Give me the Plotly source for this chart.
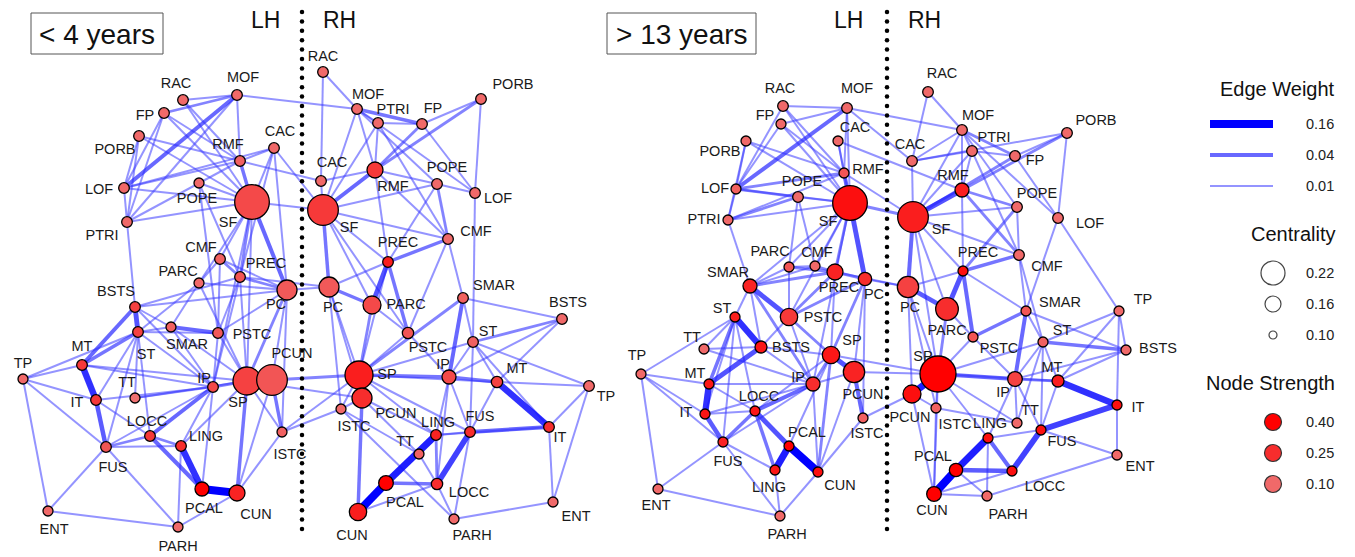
import numpy as np
import plotly.graph_objects as go

# Cortical regions (Desikan atlas abbreviations), same order in every array below
REGIONS = ["RAC", "MOF", "FP", "PORB", "CAC", "RMF", "LOF", "POPE", "SF", "PTRI",
           "CMF", "PREC", "PARC", "PC", "BSTS", "ST", "SMAR", "PSTC", "MT", "TP",
           "SP", "PCUN", "IP", "TT", "IT", "LOCC", "LING", "ISTC", "FUS", "PCAL",
           "CUN", "ENT", "PARH"]

# ---------------- "< 4 years" : left hemisphere ----------------
L1_X = [183, 237, 164, 139, 274, 240, 124, 199, 252, 127, 220, 240, 199, 287, 135, 138, 171,
        218, 82, 23, 247, 272, 213, 135, 96, 150, 181, 282, 106, 202, 237, 48, 178]
L1_Y = [100, 95, 113, 136, 148, 161, 188, 183, 202, 222, 259, 277, 283, 290, 307, 332, 327,
        333, 365, 379, 381, 380, 387, 398, 400, 436, 446, 432, 447, 489, 493, 511, 527]
L1_CENT = [.12, .12, .12, .12, .12, .12, .12, .115, .30, .12, .12, .12, .115, .19, .12, .12, .115,
           .12, .12, .115, .25, .27, .12, .115, .12, .12, .12, .115, .12, .145, .16, .115, .115]
L1_STR = [.10, .10, .10, .10, .10, .12, .10, .10, .18, .10, .12, .15, .10, .14, .20, .20, .12,
          .14, .22, .10, .20, .15, .18, .08, .22, .22, .25, .12, .15, .40, .28, .10, .10]
L1_EDGES = [
    ("RAC", "MOF", .01), ("FP", "MOF", .02), ("FP", "LOF", .01), ("FP", "PTRI", .01), ("FP", "RMF", .01),
    ("FP", "SF", .01), ("RAC", "RMF", .01), ("RAC", "SF", .01), ("MOF", "LOF", .04), ("MOF", "PTRI", .01),
    ("MOF", "RMF", .01), ("PORB", "LOF", .01), ("PORB", "PTRI", .01), ("PORB", "RMF", .01), ("PORB", "SF", .01),
    ("LOF", "PTRI", .01), ("LOF", "RMF", .01), ("LOF", "CAC", .01), ("LOF", "SF", .01), ("PTRI", "SF", .01),
    ("PTRI", "RMF", .01), ("PTRI", "BSTS", .01), ("POPE", "SF", .01), ("POPE", "PREC", .01), ("POPE", "PSTC", .01),
    ("RMF", "SF", .03), ("RMF", "CAC", .01), ("CAC", "SF", .01), ("CAC", "PC", .01), ("CAC", "PREC", .01),
    ("SF", "PC", .04), ("SF", "CMF", .01), ("SF", "PREC", .02), ("SF", "PARC", .01), ("SF", "SP", .01),
    ("SF", "IP", .01), ("CMF", "PREC", .02), ("CMF", "PARC", .01), ("CMF", "PC", .01), ("CMF", "PSTC", .01),
    ("PREC", "PC", .02), ("PREC", "PSTC", .01), ("PREC", "SP", .01), ("PREC", "BSTS", .01), ("PREC", "IP", .01),
    ("PARC", "PC", .01), ("PARC", "SP", .01), ("PARC", "SMAR", .01), ("PARC", "ST", .01), ("PC", "SP", .02),
    ("PC", "PCUN", .01), ("PC", "ISTC", .01), ("BSTS", "ST", .06), ("BSTS", "MT", .04), ("BSTS", "SMAR", .01),
    ("BSTS", "PC", .01), ("BSTS", "IP", .01), ("ST", "MT", .03), ("ST", "SMAR", .01), ("ST", "PSTC", .01),
    ("ST", "TT", .01), ("ST", "FUS", .01), ("ST", "IT", .01), ("ST", "IP", .01), ("ST", "LOCC", .01),
    ("ST", "TP", .01), ("SMAR", "PSTC", .04), ("SMAR", "IP", .01), ("SMAR", "SP", .01), ("PSTC", "SP", .01),
    ("PSTC", "IP", .01), ("PSTC", "PC", .01), ("MT", "IT", .10), ("MT", "IP", .01), ("MT", "TP", .01),
    ("MT", "SP", .01), ("TP", "IT", .01), ("TP", "FUS", .01), ("TP", "ENT", .01), ("IT", "FUS", .05),
    ("IT", "IP", .01), ("IT", "LOCC", .01), ("TT", "IP", .01), ("TT", "SP", .01), ("IP", "SP", .02),
    ("IP", "LOCC", .04), ("IP", "FUS", .01), ("IP", "PCAL", .01), ("IP", "LING", .01), ("SP", "PCUN", .02),
    ("SP", "CUN", .03), ("SP", "ISTC", .01), ("SP", "LING", .01), ("PCUN", "ISTC", .03), ("PCUN", "CUN", .01),
    ("LOCC", "FUS", .02), ("LOCC", "PCAL", .04), ("LOCC", "LING", .02), ("LING", "PCAL", .10), ("LING", "PARH", .01),
    ("LING", "FUS", .01), ("PCAL", "CUN", .16), ("FUS", "ENT", .01), ("FUS", "PARH", .01), ("ENT", "PARH", .01),
    ("PARH", "CUN", .01), ("ISTC", "CUN", .01),
]

# ---------------- "< 4 years" : right hemisphere ----------------
R1_X = [323, 357, 422, 481, 321, 375, 475, 437, 323, 378, 448, 388, 372, 329, 562, 473, 463,
        408, 497, 589, 359, 362, 449, 419, 549, 437, 436, 341, 470, 386, 358, 553, 454]
R1_Y = [72, 109, 124, 99, 181, 170, 193, 184, 210, 123, 239, 262, 305, 287, 319, 342, 298,
        333, 382, 386, 375, 398, 377, 454, 427, 484, 435, 409, 432, 483, 512, 502, 519]
R1_CENT = [.12, .12, .12, .12, .12, .16, .12, .12, .27, .12, .12, .12, .175, .19, .12, .12, .12,
           .125, .125, .12, .25, .19, .145, .115, .12, .125, .12, .115, .12, .15, .17, .115, .115]
R1_STR = [.10, .10, .10, .10, .10, .22, .10, .10, .22, .10, .10, .30, .18, .14, .10, .12, .12,
          .15, .20, .10, .30, .25, .18, .12, .25, .25, .28, .10, .25, .40, .30, .10, .10]
R1_EDGES = [
    ("RAC", "CAC", .01), ("RAC", "MOF", .01), ("MOF", "PTRI", .01), ("MOF", "FP", .03), ("MOF", "RMF", .01),
    ("MOF", "SF", .01), ("MOF", "POPE", .01), ("MOF", "LOF", .01), ("PTRI", "FP", .01), ("PTRI", "RMF", .01),
    ("PTRI", "CMF", .01), ("PTRI", "SF", .01), ("FP", "RMF", .02), ("FP", "LOF", .01), ("FP", "PORB", .01),
    ("PORB", "RMF", .02), ("PORB", "LOF", .01), ("LOF", "POPE", .01), ("LOF", "ST", .01), ("RMF", "SF", .04),
    ("RMF", "POPE", .01), ("RMF", "PREC", .01), ("RMF", "CMF", .01), ("CAC", "SF", .01), ("CAC", "RMF", .01),
    ("SF", "POPE", .01), ("SF", "CMF", .01), ("SF", "PC", .03), ("SF", "PREC", .01), ("SF", "PARC", .01),
    ("SF", "PSTC", .01), ("POPE", "PREC", .01), ("POPE", "CMF", .02), ("CMF", "PREC", .03), ("CMF", "SMAR", .01),
    ("CMF", "PSTC", .01), ("PREC", "PARC", .06), ("PREC", "PSTC", .03), ("PREC", "PC", .01), ("PREC", "SP", .01),
    ("PC", "PARC", .03), ("PC", "SP", .01), ("PC", "PCUN", .01), ("PC", "ISTC", .01), ("PARC", "PSTC", .01),
    ("PARC", "SP", .02), ("SMAR", "IP", .04), ("SMAR", "SP", .02), ("SMAR", "ST", .01), ("SMAR", "BSTS", .01),
    ("PSTC", "SP", .01), ("PSTC", "IP", .01), ("ST", "BSTS", .02), ("ST", "IP", .01), ("ST", "MT", .01),
    ("ST", "TP", .01), ("ST", "FUS", .01), ("ST", "IT", .01), ("ST", "SP", .01), ("BSTS", "IP", .01),
    ("BSTS", "MT", .01), ("SP", "IP", .03), ("SP", "PCUN", .02), ("SP", "ISTC", .01), ("SP", "MT", .01),
    ("SP", "FUS", .01), ("SP", "LING", .01), ("IP", "MT", .03), ("IP", "FUS", .01), ("IP", "LING", .01),
    ("IP", "LOCC", .01), ("MT", "IT", .10), ("MT", "TP", .01), ("MT", "FUS", .01), ("TP", "IT", .01),
    ("TP", "ENT", .01), ("IT", "FUS", .04), ("IT", "ENT", .01), ("IT", "LING", .01), ("FUS", "LOCC", .08),
    ("FUS", "LING", .01), ("FUS", "PARH", .01), ("LING", "PCAL", .12), ("LING", "LOCC", .02), ("TT", "LOCC", .01),
    ("TT", "PCUN", .01), ("PCAL", "CUN", .16), ("PCAL", "LOCC", .03), ("PCUN", "CUN", .03), ("PCUN", "ISTC", .01),
    ("PCUN", "LING", .01), ("CUN", "LOCC", .01), ("LOCC", "PARH", .01), ("PARH", "ENT", .01), ("PARH", "ISTC", .01),
    ("ISTC", "TT", .01),
]
# left-hemisphere region -> right-hemisphere region
P1_CROSS = [("MOF", "MOF", .01), ("SF", "SF", .01), ("CAC", "SF", .01), ("PC", "PC", .01),
            ("PCUN", "SP", .02), ("SP", "PCUN", .01), ("ISTC", "ISTC", .01), ("RMF", "CAC", .01),
            ("PREC", "PC", .01), ("ISTC", "SP", .01)]

# ---------------- "> 13 years" : left hemisphere ----------------
L2_X = [783, 847, 781, 746, 838, 844, 736, 798, 850, 728, 815, 835, 789, 865, 761, 735, 750,
        789, 709, 641, 831, 854, 813, 704, 705, 755, 775, 863, 723, 789, 818, 658, 780]
L2_Y = [106, 108, 124, 141, 141, 173, 189, 197, 203, 220, 266, 272, 267, 279, 347, 317, 286,
        317, 384, 374, 355, 372, 384, 349, 414, 411, 470, 418, 442, 446, 472, 489, 516]
L2_CENT = [.12, .12, .115, .115, .115, .115, .115, .12, .30, .115, .115, .16, .115, .14, .13, .115, .145,
           .17, .115, .115, .17, .20, .145, .115, .115, .115, .115, .115, .115, .115, .115, .115, .115]
L2_STR = [.10, .10, .10, .10, .10, .15, .12, .10, .35, .10, .10, .28, .15, .25, .32, .30, .28,
          .22, .32, .10, .32, .28, .25, .10, .33, .32, .32, .12, .28, .40, .35, .10, .10]
L2_EDGES = [
    ("RAC", "MOF", .01), ("RAC", "LOF", .01), ("RAC", "RMF", .01), ("RAC", "SF", .01), ("FP", "MOF", .01),
    ("FP", "LOF", .01), ("FP", "SF", .01), ("FP", "RMF", .01), ("MOF", "LOF", .04), ("MOF", "RMF", .01),
    ("MOF", "SF", .01), ("CAC", "RMF", .01), ("CAC", "SF", .01), ("PORB", "LOF", .01), ("PORB", "PTRI", .01),
    ("PORB", "RMF", .01), ("PORB", "SF", .01), ("LOF", "PTRI", .01), ("LOF", "RMF", .02), ("LOF", "POPE", .02),
    ("LOF", "SF", .01), ("PTRI", "SF", .01), ("PTRI", "POPE", .02), ("PTRI", "RMF", .01), ("PTRI", "SMAR", .01),
    ("POPE", "SF", .01), ("POPE", "CMF", .01), ("POPE", "PARC", .01), ("RMF", "SF", .04), ("SF", "PC", .06),
    ("SF", "PREC", .02), ("SF", "CMF", .01), ("SF", "PARC", .01), ("SF", "SMAR", .01), ("SF", "PSTC", .01),
    ("SF", "IP", .01), ("PARC", "CMF", .01), ("PARC", "PREC", .02), ("PARC", "SMAR", .01), ("PARC", "PSTC", .01),
    ("CMF", "PREC", .02), ("CMF", "SMAR", .01), ("PREC", "PC", .02), ("PREC", "PSTC", .02), ("PREC", "SMAR", .02),
    ("PREC", "SP", .01), ("PC", "PSTC", .02), ("PC", "SP", .02), ("PC", "PCUN", .01), ("PC", "ISTC", .01),
    ("SMAR", "PSTC", .06), ("SMAR", "ST", .01), ("SMAR", "IP", .02), ("SMAR", "BSTS", .01), ("PSTC", "SP", .02),
    ("PSTC", "IP", .01), ("PSTC", "BSTS", .01), ("ST", "BSTS", .10), ("ST", "TT", .01), ("ST", "MT", .03),
    ("ST", "TP", .01), ("ST", "IT", .01), ("ST", "FUS", .01), ("ST", "LOCC", .01), ("TT", "BSTS", .01),
    ("TT", "IP", .01), ("BSTS", "MT", .06), ("BSTS", "IP", .01), ("BSTS", "SP", .01), ("SP", "PCUN", .06),
    ("SP", "IP", .02), ("SP", "CUN", .02), ("SP", "LOCC", .01), ("SP", "PCAL", .01), ("IP", "LOCC", .04),
    ("IP", "FUS", .01), ("IP", "PCUN", .01), ("IP", "CUN", .01), ("MT", "IT", .10), ("MT", "TP", .01),
    ("MT", "IP", .01), ("MT", "LOCC", .01), ("TP", "IT", .01), ("TP", "ENT", .01), ("TP", "FUS", .01),
    ("IT", "FUS", .05), ("IT", "LOCC", .01), ("IT", "IP", .01), ("LOCC", "FUS", .03), ("LOCC", "PCAL", .06),
    ("LOCC", "LING", .03), ("PCAL", "CUN", .16), ("PCAL", "LING", .12), ("PCUN", "ISTC", .04), ("PCUN", "CUN", .01),
    ("LING", "PARH", .01), ("LING", "FUS", .01), ("ENT", "PARH", .01), ("ENT", "FUS", .01), ("PARH", "CUN", .01),
    ("PARH", "FUS", .01), ("ISTC", "CUN", .01),
]

# ---------------- "> 13 years" : right hemisphere ----------------
R2_X = [928, 962, 1015, 1067, 912, 962, 1058, 1017, 913, 972, 1019, 963, 947, 908, 1126, 1043, 1026,
        973, 1058, 1119, 938, 912, 1015, 1017, 1117, 1012, 988, 936, 1041, 956, 934, 1117, 987]
R2_Y = [92, 130, 156, 133, 161, 190, 218, 207, 217, 151, 255, 271, 309, 287, 350, 342, 311,
        337, 381, 311, 374, 394, 379, 423, 405, 471, 438, 408, 430, 470, 494, 455, 496]
R2_CENT = [.12, .12, .12, .12, .12, .145, .12, .12, .27, .12, .12, .115, .21, .20, .115, .115, .115,
           .115, .13, .115, .31, .175, .15, .115, .115, .115, .115, .115, .115, .14, .15, .115, .115]
R2_STR = [.10, .10, .10, .10, .10, .30, .10, .10, .30, .10, .10, .35, .25, .20, .10, .12, .15,
          .15, .30, .10, .40, .35, .20, .10, .35, .35, .35, .12, .35, .40, .40, .10, .10]
R2_EDGES = [
    ("RAC", "CAC", .01), ("RAC", "MOF", .01), ("MOF", "PTRI", .01), ("MOF", "FP", .02), ("MOF", "LOF", .01),
    ("MOF", "RMF", .01), ("MOF", "SF", .01), ("MOF", "CAC", .01), ("MOF", "POPE", .01), ("PTRI", "FP", .01),
    ("PTRI", "RMF", .01), ("PTRI", "CMF", .01), ("PTRI", "SF", .01), ("CAC", "SF", .01), ("CAC", "PTRI", .01),
    ("PORB", "FP", .01), ("PORB", "RMF", .02), ("PORB", "LOF", .01), ("PORB", "CAC", .01), ("FP", "LOF", .01),
    ("FP", "SF", .02), ("RMF", "SF", .06), ("RMF", "POPE", .02), ("RMF", "CMF", .02), ("RMF", "PREC", .01),
    ("POPE", "SF", .01), ("POPE", "PREC", .02), ("POPE", "CMF", .01), ("LOF", "TP", .01), ("LOF", "SMAR", .01),
    ("SF", "PC", .04), ("SF", "PREC", .01), ("SF", "PARC", .01), ("SF", "CMF", .01), ("SF", "SP", .01),
    ("PREC", "CMF", .03), ("PREC", "PARC", .06), ("PREC", "PSTC", .04), ("PREC", "PC", .01), ("PREC", "SMAR", .01),
    ("CMF", "SMAR", .01), ("CMF", "ST", .01), ("PC", "PARC", .05), ("PC", "SP", .01), ("PC", "PCUN", .01),
    ("PC", "ISTC", .01), ("PARC", "SP", .02), ("PARC", "PSTC", .01), ("PSTC", "SMAR", .03), ("PSTC", "SP", .01),
    ("PSTC", "IP", .01), ("SMAR", "IP", .04), ("SMAR", "ST", .01), ("SMAR", "BSTS", .01), ("ST", "BSTS", .03),
    ("ST", "IP", .01), ("ST", "MT", .01), ("ST", "FUS", .01), ("ST", "TT", .01), ("ST", "TP", .01),
    ("ST", "SP", .01), ("BSTS", "TP", .01), ("BSTS", "MT", .01), ("BSTS", "IP", .01), ("SP", "IP", .04),
    ("SP", "PCUN", .12), ("SP", "ISTC", .01), ("SP", "MT", .01), ("SP", "LING", .01), ("SP", "TT", .01),
    ("SP", "CUN", .01), ("IP", "MT", .02), ("IP", "TT", .01), ("IP", "LING", .01), ("IP", "FUS", .01),
    ("MT", "IT", .10), ("MT", "FUS", .01), ("MT", "TP", .01), ("TP", "IT", .01), ("IT", "ENT", .01),
    ("IT", "FUS", .08), ("FUS", "LOCC", .08), ("FUS", "ENT", .01), ("FUS", "LING", .01), ("LING", "PCAL", .12),
    ("LING", "LOCC", .04), ("LING", "PARH", .01), ("PCAL", "LOCC", .05), ("PCAL", "CUN", .16), ("PCAL", "PARH", .01),
    ("CUN", "PCUN", .01), ("CUN", "ISTC", .01), ("CUN", "PARH", .01), ("CUN", "LOCC", .01), ("PARH", "ENT", .01),
    ("PCUN", "ISTC", .01), ("ISTC", "TT", .01),
]
P2_CROSS = [("MOF", "CAC", .01), ("MOF", "MOF", .01), ("SF", "SF", .02), ("RMF", "SF", .01),
            ("PC", "PC", .01), ("PREC", "PC", .01), ("SP", "SP", .01), ("PCUN", "SP", .01),
            ("ISTC", "PCUN", .01), ("CAC", "RMF", .01)]

# label placement (offset from node centre, px)
L1_LAB = [(-7, -16), (6, -17), (-19, 3), (-24, 14), (6, -16), (-12, -16), (-25, 2), (-2, 16), (-24, 21),
          (-25, 14), (-19, -11), (26, -13), (-21, -11), (-11, 15), (-19, -15), (8, 23), (16, 18), (34, 2),
          (0, -18), (0, -15), (-9, 22), (20, -26), (-9, -8), (-8, -15), (-19, 3), (-3, -14), (25, -9),
          (8, 23), (7, 21), (2, 20), (19, 22), (6, 19), (0, 20)]
R1_LAB = [(0, -15), (11, -14), (11, -15), (32, -14), (11, -18), (18, 17), (23, 6), (10, -16), (26, 18),
          (15, -13), (28, -7), (10, -19), (34, 0), (4, 21), (6, -16), (15, -10), (31, -12), (20, 15),
          (20, -13), (17, 11), (28, 0), (34, 16), (-6, -12), (-14, -12), (11, 11), (32, 9), (2, -12),
          (13, 18), (10, -15), (19, 20), (-6, 24), (23, 15), (18, 17)]
L2_LAB = [(-3, -17), (10, -19), (-16, -8), (-26, 11), (17, -13), (24, -3), (-21, 0), (4, -15), (-22, 19),
          (-24, 0), (2, -13), (4, 16), (-19, -15), (9, 16), (30, 1), (-13, -8), (-22, -13), (34, 1),
          (-14, -10), (-4, -18), (21, -14), (9, 23), (-15, -6), (-12, -11), (-19, -1), (4, -14), (-6, 18),
          (4, 16), (5, 20), (18, -13), (22, 14), (-2, 17), (7, 19)]
R2_LAB = [(14, -18), (16, -14), (20, 5), (29, -12), (-2, -16), (-9, -14), (32, 6), (20, -13), (28, 13),
          (22, -13), (28, 12), (15, -18), (0, 22), (2, 21), (32, -1), (19, -11), (34, -8), (26, 12),
          (-6, -13), (24, -11), (-15, -17), (-2, 24), (-12, 14), (13, -12), (21, 3), (33, 16), (2, -14),
          (19, 17), (21, 12), (-23, -13), (-2, 17), (23, 12), (21, 19)]

EDGE_LEGEND = [0.16, 0.04, 0.01]
CENT_LEGEND = [0.22, 0.16, 0.10]
STRENGTH_LEGEND = [0.40, 0.25, 0.10]

FONT = "Liberation Sans, Arial, Helvetica, sans-serif"


def edge_width(w):
    return 20 * np.sqrt(w)


def edge_color(w):
    t = float(np.clip((np.sqrt(w) - 0.1) / 0.3, 0, 1))
    base = int(round(60 * (1 - t)))
    alpha = 0.55 + 0.45 * t
    return f"rgba({base},{base},255,{alpha:.2f})"


def node_size(c):
    return 8 + (c - 0.10) * 133.3


def node_color(s):
    s = float(np.clip(s, 0.08, 0.40))
    r = 240 + (s - 0.10) * 50
    if s <= 0.25:
        g = 105 - (s - 0.10) * 400
    else:
        g = 45 - (s - 0.25) * 300
    r, g = int(np.clip(r, 0, 255)), int(np.clip(g, 0, 255))
    return f"rgb({r},{g},{g})"


hemis = [
    ("L1", L1_X, L1_Y, L1_CENT, L1_STR, L1_EDGES, L1_LAB),
    ("R1", R1_X, R1_Y, R1_CENT, R1_STR, R1_EDGES, R1_LAB),
    ("L2", L2_X, L2_Y, L2_CENT, L2_STR, L2_EDGES, L2_LAB),
    ("R2", R2_X, R2_Y, R2_CENT, R2_STR, R2_EDGES, R2_LAB),
]
pos = {}
for key, xs, ys, *_ in hemis:
    for r, x, y in zip(REGIONS, xs, ys):
        pos[(key, r)] = (x, y)

# collect all edges as (node_a, node_b, weight)
all_edges = []
for key, *_rest in hemis:
    edges = _rest[4]
    for a, b, w in edges:
        all_edges.append(((key, a), (key, b), w))
for a, b, w in P1_CROSS:
    all_edges.append((("L1", a), ("R1", b), w))
for a, b, w in P2_CROSS:
    all_edges.append((("L2", a), ("R2", b), w))

fig = go.Figure()

# edges, grouped by weight; heavier drawn last
for w in sorted(set(e[2] for e in all_edges)):
    xs, ys = [], []
    for a, b, ww in all_edges:
        if ww != w:
            continue
        xa, ya = pos[a]
        xb, yb = pos[b]
        xs += [xa, xb, None]
        ys += [ya, yb, None]
    fig.add_trace(go.Scatter(x=xs, y=ys, mode="lines", hoverinfo="skip",
                             line=dict(width=edge_width(w), color=edge_color(w))))

# hemisphere dividers
for xd in (302, 887):
    yy = np.arange(12, 538, 9.4)
    fig.add_trace(go.Scatter(x=[xd] * len(yy), y=yy, mode="markers", hoverinfo="skip",
                             marker=dict(size=4.5, color="black")))

# nodes
for key, xs, ys, cent, strength, edges, lab in hemis:
    fig.add_trace(go.Scatter(
        x=xs, y=ys, mode="markers", hoverinfo="text", text=REGIONS,
        marker=dict(size=[node_size(c) for c in cent],
                    color=[node_color(s) for s in strength],
                    line=dict(color="black", width=1.3), opacity=1)))

# node labels
lx, ly, lt = [], [], []
for key, xs, ys, cent, strength, edges, lab in hemis:
    for r, x, y, (dx, dy) in zip(REGIONS, xs, ys, lab):
        lx.append(x + dx)
        ly.append(y + dy)
        lt.append(r)
fig.add_trace(go.Scatter(x=lx, y=ly, text=lt, mode="text", hoverinfo="skip",
                         textposition="middle center",
                         textfont=dict(family=FONT, size=14.5, color="#1a1a1a")))

# legend: edge weight
for i, w in enumerate(EDGE_LEGEND):
    yl = 124 + i * 31
    fig.add_trace(go.Scatter(x=[1210, 1273], y=[yl, yl], mode="lines", hoverinfo="skip",
                             line=dict(width=edge_width(w), color=edge_color(w))))
    fig.add_annotation(x=1304, y=yl, text=f"{w:.2f}", showarrow=False, xanchor="left",
                       yanchor="middle", font=dict(family=FONT, size=14.5, color="#222"))
# legend: centrality
for i, c in enumerate(CENT_LEGEND):
    yl = 273 + i * 31
    fig.add_trace(go.Scatter(x=[1273], y=[yl], mode="markers", hoverinfo="skip",
                             marker=dict(size=node_size(c), color="white",
                                         line=dict(color="#444", width=1.2))))
    fig.add_annotation(x=1304, y=yl, text=f"{c:.2f}", showarrow=False, xanchor="left",
                       yanchor="middle", font=dict(family=FONT, size=14.5, color="#222"))
# legend: node strength
for i, s in enumerate(STRENGTH_LEGEND):
    yl = 422 + i * 31
    fig.add_trace(go.Scatter(x=[1273], y=[yl], mode="markers", hoverinfo="skip",
                             marker=dict(size=17, color=node_color(s),
                                         line=dict(color="#333", width=1.2))))
    fig.add_annotation(x=1304, y=yl, text=f"{s:.2f}", showarrow=False, xanchor="left",
                       yanchor="middle", font=dict(family=FONT, size=14.5, color="#222"))

for title, yl in (("Edge Weight", 89), ("Centrality", 234), ("Node Strength", 383)):
    fig.add_annotation(x=1337, y=yl, text=title, showarrow=False, xanchor="right",
                       yanchor="middle", font=dict(family=FONT, size=20, color="#111"))

# panel titles and hemisphere labels
for (x0, x1, label) in ((31, 163, "&lt; 4 years"), (607, 756, "&gt; 13 years")):
    fig.add_shape(type="rect", x0=x0, x1=x1, y0=13, y1=54, xref="x", yref="y",
                  line=dict(color="#555", width=1), fillcolor="white", layer="below")
    fig.add_annotation(x=(x0 + x1) / 2, y=34, text=label, showarrow=False,
                       xanchor="center", yanchor="middle",
                       font=dict(family=FONT, size=28, color="#111"))
for xh, t in ((265, "LH"), (339, "RH"), (848, "LH"), (924, "RH")):
    fig.add_annotation(x=xh, y=20, text=t, showarrow=False, xanchor="center",
                       yanchor="middle", font=dict(family=FONT, size=23, color="#111"))

fig.update_layout(
    width=1355, height=557, margin=dict(l=0, r=0, t=0, b=0),
    paper_bgcolor="white", plot_bgcolor="white", showlegend=False,
    xaxis=dict(range=[0, 1355], visible=False, fixedrange=True),
    yaxis=dict(range=[557, 0], visible=False, fixedrange=True),
    hovermode="closest",
)

fig.write_html("out.html")
